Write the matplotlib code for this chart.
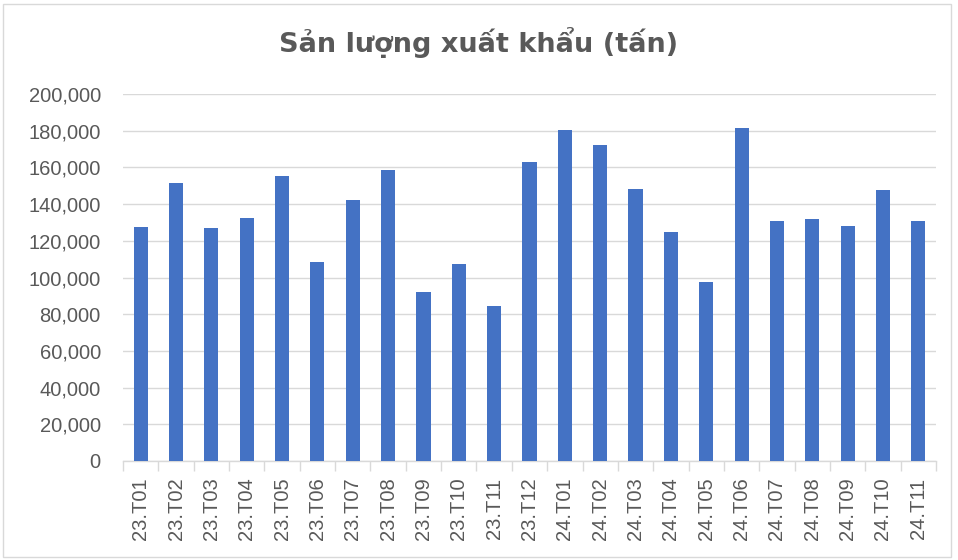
import matplotlib.pyplot as plt
from matplotlib.patches import Rectangle
from matplotlib.ticker import FuncFormatter, FixedLocator
import numpy as np

# Data
months = ['23.T01', '23.T02', '23.T03', '23.T04', '23.T05', '23.T06', '23.T07', '23.T08',
          '23.T09', '23.T10', '23.T11', '23.T12', '24.T01', '24.T02', '24.T03', '24.T04',
          '24.T05', '24.T06', '24.T07', '24.T08', '24.T09', '24.T10', '24.T11']
volume = [127400, 151300, 126800, 132600, 155300, 108300, 142400, 158400,
          91900, 107200, 84300, 163100, 180500, 172200, 148100, 124800,
          97500, 181500, 130800, 131900, 128100, 147700, 130800]

grey = '#595959'
plt.rcParams['font.family'] = ['Liberation Sans', 'DejaVu Sans']

fig = plt.figure(figsize=(9.58, 5.6), dpi=100)
ax = fig.add_axes([123 / 958, 1 - 461 / 560, (936 - 123) / 958, (461 - 94) / 560])

x = np.arange(len(months))
ax.bar(x, volume, width=0.4, color='#4472C4', zorder=3)

ax.set_xlim(-0.5, len(months) - 0.5)
ax.set_ylim(0, 200000)
ax.set_yticks(np.arange(0, 200001, 20000))
ax.yaxis.set_major_formatter(FuncFormatter(lambda v, p: f'{int(v):,}'))
ax.grid(axis='y', color='#d9d9d9', linewidth=1, zorder=0)

ax.set_xticks(x)
ax.set_xticklabels(months, rotation=90)
ax.xaxis.set_minor_locator(FixedLocator(np.arange(-0.5, len(months), 1)))
ax.tick_params(axis='x', which='major', length=0, pad=12, labelsize=14.5, labelcolor=grey)
ax.tick_params(axis='x', which='minor', length=7, color='#d9d9d9', width=1)
ax.tick_params(axis='y', length=0, pad=16, labelsize=14.5, labelcolor=grey)

for s in ['top', 'right', 'left']:
    ax.spines[s].set_visible(False)
ax.spines['bottom'].set_color('#d9d9d9')
ax.spines['bottom'].set_linewidth(1)

fig.text(0.5, 1 - 43 / 560, 'Sản lượng xuất khẩu (tấn)', ha='center', va='center',
         fontsize=19.5, fontweight='bold', color=grey, family='DejaVu Sans')

# chart border
fig.patches.append(Rectangle((3 / 958, 3 / 560), 948 / 958, 553 / 560, transform=fig.transFigure,
                             fill=False, edgecolor='#d9d9d9', linewidth=1))

fig.savefig('out.png', dpi=100)
